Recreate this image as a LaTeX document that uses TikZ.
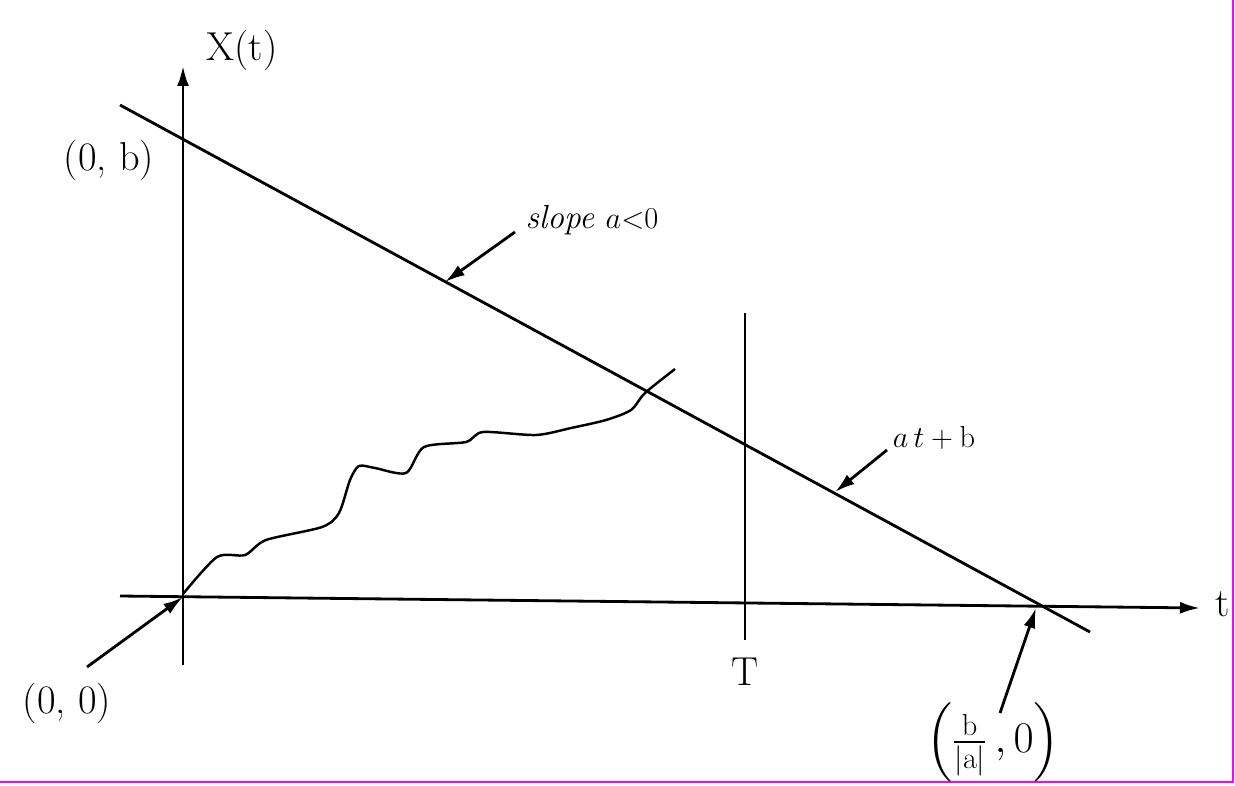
\documentclass[tikz,border=0pt]{standalone}
\usepackage{amsmath,amssymb}
\usetikzlibrary{calc,arrows.meta}
\definecolor{frame}{RGB}{255,0,255}
\tikzset{lbl/.style={font=\fontsize{23}{26}\selectfont,inner sep=1pt},
        arr/.style={-{Latex[length=0.4cm,width=0.24cm]}}}

\begin{document}
\begin{tikzpicture}[x=0.02cm,y=-0.02cm,line width=1.6pt]
        \useasboundingbox(0,0)rectangle(1235,785);
        \draw[frame,line width=1.2pt](0,782)--(1233,782)--(1233,0);
        % axes
        \coordinate(O)at(183,597);
        \coordinate(ybot)at(183,665);
        \coordinate(ytop)at(183,66);
        \coordinate(xl)at(120,596);
        \coordinate(xr)at(1200,608);
        \node[lbl](Xt)at(242,50){X(t)};
        \node[lbl](tlab)at(1223,604){t};
        \draw[arr](ybot)--(ytop);
        \draw[arr](xl)--(xr);
        % line a t + b
        \coordinate(L1)at(120,105);
        \coordinate(L2)at(1090,632);
        \draw(L1)--(L2);
        \node[lbl](b0)at(109,160){(0, b)};
        % time T
        \coordinate(T1)at(745,313);
        \coordinate(T2)at(745,640);
        \draw(T1)--(T2);
        \node[lbl](Tlab)at(745,672){T};
        % sample path
        \draw[line width=1.4pt]plot[smooth,tension=0.45]coordinates{(183,594)(217,557)(245,555)(266,540)(322,527)(339,513)(350,480)(359,466)(375,468)(406,473)(424,447)(466,442)(483,432)(536,435)(571,428)(606,420)(631,410)(645,393)(675,369)};
        % labels with arrows
        \node[lbl](o0)at(67,703){(0, 0)};
        \coordinate(o1)at(87,667);
        \draw[arr](o1)--(O);
        \node[lbl,font=\fontsize{19}{22}\selectfont\itshape](slope)at(592,220){slope \(a{<}0\)};
        \coordinate(s1)at(515,232);
        \coordinate(s2)at(445,282);
        \draw[arr](s1)--(s2);
        \node[lbl,font=\fontsize{19}{22}\selectfont](atb)at(934,438){\(a\,t+\mathrm{b}\)};
        \coordinate(a1)at(887,450);
        \coordinate(a2)at(835,492);
        \draw[arr](a1)--(a2);
        \node[lbl,font=\fontsize{25}{28}\selectfont](root)at(993,742){\(\Bigl(\frac{\mathrm{b}}{|\mathrm{a}|}\,,0\Bigr)\)};
        \coordinate(r1)at(1000,713);
        \coordinate(r2)at(1036,608);
        \draw[arr](r1)--(r2);
\end{tikzpicture}
\end{document}
